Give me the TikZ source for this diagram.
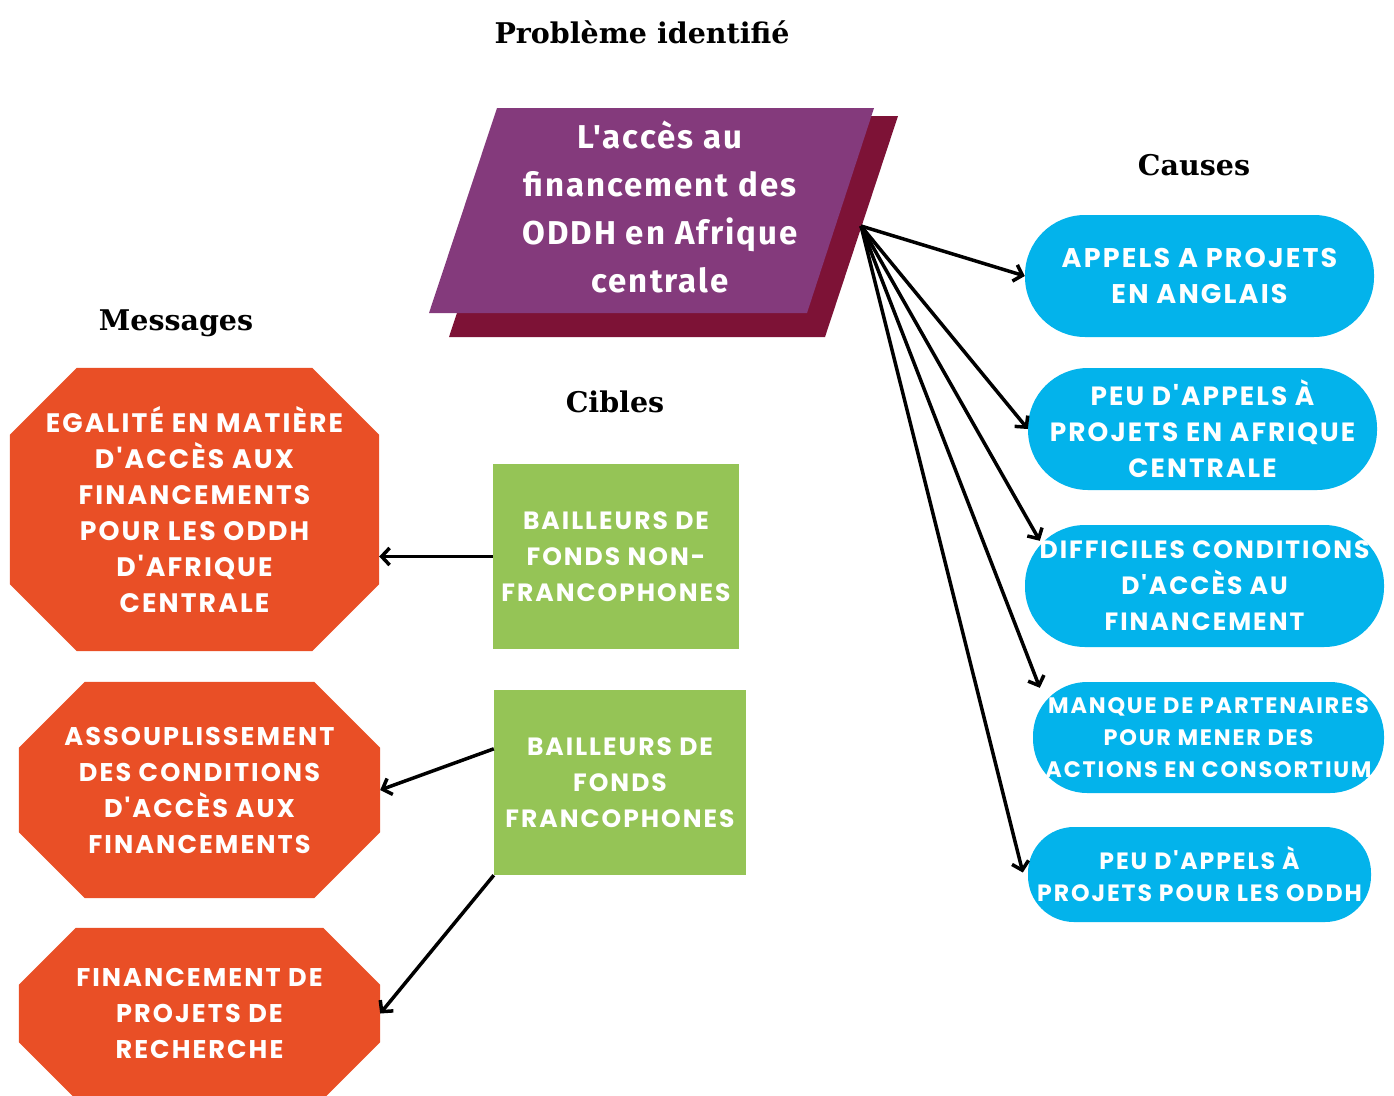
\documentclass[tikz,border=0pt]{standalone}
\usepackage{fontspec}
\setmainfont{DejaVu Serif}
\newfontfamily\boxfont{Poppins}[LetterSpace=8]
\newfontfamily\probfont{Fira Sans}[LetterSpace=6]
\usetikzlibrary{arrows.meta,calc}
\pgfdeclarelayer{background}
\pgfsetlayers{background,main}
\definecolor{cpurple}{HTML}{843A7C}
\definecolor{cmaroon}{HTML}{7D1236}
\definecolor{corange}{HTML}{E94F26}
\definecolor{cgreen}{HTML}{95C456}
\definecolor{cblue}{HTML}{03B3EB}
\newcommand\octfill[2]{%
  \fill[corange] ($(#1.north west)+(#2,0)$) -- ($(#1.north east)+(-#2,0)$)
    -- ($(#1.north east)+(0,#2)$) -- ($(#1.south east)+(0,-#2)$)
    -- ($(#1.south east)+(-#2,0)$) -- ($(#1.south west)+(#2,0)$)
    -- ($(#1.south west)+(0,-#2)$) -- ($(#1.north west)+(0,#2)$) -- cycle;}
\begin{document}
\begin{tikzpicture}[x=1pt,y=-1pt,
  heading/.style={anchor=base, inner sep=0, font=\bfseries\fontsize{28.5}{34}\selectfont},
  boxtext/.style={inner sep=0, align=center, text=white, font=\boxfont\bfseries\fontsize{#1}{36}\selectfont},
  boxtext/.default=25,
  msgbox/.style={boxtext=#1},
  targetbox/.style={boxtext, fill=cgreen},
  causebox/.style={boxtext=#1, fill=cblue},
  probtext/.style={inner sep=0, align=center, text=white, font=\probfont\bfseries\fontsize{33}{48}\selectfont},
  link/.style={line width=3.5pt, -{Straight Barb[length=8pt,width=17pt]}}
]
\useasboundingbox (0,0) rectangle (1394,1095);

% headings
\node[heading] (hprob) at (642,43) {Problème identifié};
\node[heading] (hcause) at (1194,175) {Causes};
\node[heading] (hmsg) at (176,330) {Messages};
\node[heading] (htarget) at (615,412) {Cibles};

% problem
\fill[cmaroon] (522,116) -- (898,116) -- (825,337) -- (449,337) -- cycle;
\fill[cpurple] (497,108) -- (874,108) -- (807,313) -- (429,313) -- cycle;
\node[probtext] (prob) at (660,207) {L'accès au\\financement des\\ODDH en Afrique\\centrale};
\coordinate (src) at (861,226);

% causes
\node[causebox=27, minimum width=349pt, minimum height=122pt, rounded corners=60pt] (c1) at (1199.5,276) {APPELS A PROJETS\\EN ANGLAIS};
\node[causebox=26.4, minimum width=349pt, minimum height=122pt, rounded corners=60pt] (c2) at (1202.5,429) {PEU D'APPELS À\\PROJETS EN AFRIQUE\\CENTRALE};
\node[causebox=25, minimum width=359pt, minimum height=122pt, rounded corners=60pt] (c3) at (1204.5,586) {DIFFICILES CONDITIONS\\D'ACCÈS AU\\FINANCEMENT};
\node[causebox=22.4, minimum width=351pt, minimum height=111pt, rounded corners=54pt, font=\boxfont\bfseries\fontsize{22.4}{32}\selectfont] (c4) at (1208.5,737.5) {MANQUE DE PARTENAIRES\\POUR MENER DES\\ACTIONS EN CONSORTIUM};
\node[causebox=23.6, minimum width=343pt, minimum height=95pt, rounded corners=46pt, font=\boxfont\bfseries\fontsize{23.6}{32}\selectfont] (c5) at (1199.5,874.5) {PEU D'APPELS À\\PROJETS POUR LES ODDH};

% targets
\node[targetbox, minimum width=246pt, minimum height=185pt] (g1) at (616,556.5) {BAILLEURS DE\\FONDS NON-\\FRANCOPHONES};
\node[targetbox, minimum width=252pt, minimum height=185pt] (g2) at (620,782.5) {BAILLEURS DE\\FONDS\\FRANCOPHONES};

% messages
\node[msgbox=26.7, minimum width=369pt, minimum height=283pt] (m1) at (194.5,509.5) {EGALITÉ EN MATIÈRE\\D'ACCÈS AUX\\FINANCEMENTS\\POUR LES ODDH\\D'AFRIQUE\\CENTRALE};
\node[msgbox=25.6, minimum width=361pt, minimum height=216pt] (m2) at (199.5,790) {ASSOUPLISSEMENT\\DES CONDITIONS\\D'ACCÈS AUX\\FINANCEMENTS};
\node[msgbox=25.6, minimum width=361pt, minimum height=171pt] (m3) at (199.5,1013.5) {FINANCEMENT DE\\PROJETS DE\\RECHERCHE};
\begin{pgfonlayer}{background}
\octfill{m1}{67}
\octfill{m2}{66}
\octfill{m3}{57}
\end{pgfonlayer}

% connectors
\draw[link] (src) -- (c1.west);
\draw[link] (src) -- (c2.west);
\draw[link] (src) -- ($(c3.north west)+(15,16)$);
\draw[link] (src) -- ($(c4.north west)+(7,6)$);
\draw[link] (src) -- ($(c5.west)+(-5,-2)$);
\draw[link] (g1.west) -- (g1.west -| m1.east);
\draw[link] ($(g2.north west)+(0,59)$) -- (m2.east);
\draw[link] (g2.south west) -- (m3.east);
\end{tikzpicture}
\end{document}
